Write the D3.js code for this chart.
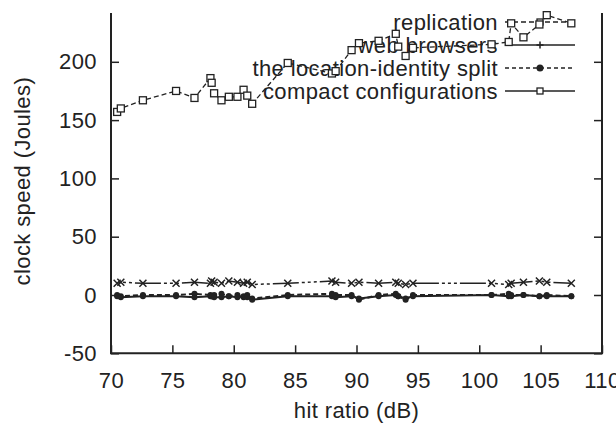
<!DOCTYPE html>
<html>
<head>
<meta charset="utf-8">
<script src="https://cdn.jsdelivr.net/npm/d3@7"></script>
<style>
  body { margin: 0; background: #fff; }
  svg { display: block; font-family: "Liberation Sans", Arial, sans-serif; }
</style>
</head>
<body>
<svg></svg>
<script>
// shared x values (hit ratio, dB)
const hitRatio = [70.5, 70.8, 72.6, 75.3, 76.8, 78.1, 78.2, 78.4, 79.0, 79.6, 80.3, 80.8, 81.1, 81.5, 84.4,
    88.0, 88.3, 89.6, 90.2, 91.8, 93.2, 93.4, 94.0, 94.6, 101.0, 102.4, 102.6, 103.6, 104.9, 105.5, 107.5];

const replication = [157, 160, 167, 175, 169, 186, 182, 173, 167, 170, 170, 176, 171, 164, 199,
    190, 192, 210, 216, 218, 224, 213, 205, 212, 215, 217, 233, 221, 232, 240, 233];
const webBrowsers = [10, 11, 10, 10, 11, 10, 12, 11, 10, 12, 11, 10, 11, 9, 10,
    12, 11, 10, 11, 10, 11, 10, 9, 10, 10, 9, 10, 11, 12, 11, 10];
const locationSplit = [0, -1, 0, 0, 1, 0, -1, 0, 1, -1, 0, -2, 0, -3, 0,
    1, 0, 0, -4, 0, 1, -1, -4, 0, 0, 1, 0, 0, -1, 0, -1];
const compactConf = [-1, -2, -1, -1, -2, -1, -1, -2, -2, -1, -2, -1, -2, -4, -1,
    -1, -2, -1, -3, -1, 0, -1, -3, -1, 0, -1, -1, 0, -1, -1, -1];

const xTicks = [70, 75, 80, 85, 90, 95, 100, 105, 110];
const yTicks = [-50, 0, 50, 100, 150, 200];
const seriesNames = ["replication", "web browsers", "the location-identity split", "compact configurations"];

const width = 616, height = 425;
const margin = ({ top: 13, right: 14, bottom: 72, left: 111 });

const svg = d3.select("svg")
    .attr("width", width)
    .attr("height", height);

const x = d3.scaleLinear()
    .domain([70, 110])
    .range([margin.left, width - margin.right]);

const y = d3.scaleLinear()
    .domain([-50, 250])
    .range([height - margin.bottom + 0.3, 3.5]);

const ink = "#222";
const fontSize = 22;
const spacing = "0.4px";

// axes
const xAxis = g => g
    .attr("transform", `translate(0,${y(-50)})`)
    .call(d3.axisBottom(x).tickValues(xTicks).tickSize(-8).tickPadding(19).tickFormat(d => String(d)))
    .call(g => g.select(".domain").remove());

const yAxis = g => g
    .attr("transform", `translate(${x(70)},0)`)
    .call(d3.axisLeft(y).tickValues(yTicks).tickSize(-8).tickPadding(14).tickFormat(d => String(d)))
    .call(g => g.select(".domain").remove());

const yAxisRight = g => g
    .attr("transform", `translate(${x(110)},0)`)
    .call(d3.axisRight(y).tickValues(yTicks).tickSize(-8).tickFormat(""))
    .call(g => g.select(".domain").remove());

svg.append("g").call(xAxis);
svg.append("g").call(yAxis);
svg.append("g").call(yAxisRight);

svg.selectAll(".tick line").attr("stroke", ink).attr("stroke-width", 1.5);
svg.selectAll(".tick text")
    .attr("font-size", fontSize)
    .attr("font-family", "Liberation Sans, Arial, sans-serif")
    .attr("letter-spacing", spacing)
    .attr("fill", ink);

// frame: left, bottom, right
svg.append("path")
    .attr("d", `M${x(70)},${margin.top}V${y(-50)}H${x(110)}V${margin.top}`)
    .attr("fill", "none")
    .attr("stroke", ink)
    .attr("stroke-width", 2);

// axis titles
svg.append("text")
    .attr("x", (x(70) + x(110)) / 2)
    .attr("y", 418)
    .attr("text-anchor", "middle")
    .attr("font-size", fontSize)
    .attr("letter-spacing", spacing)
    .attr("fill", ink)
    .text("hit ratio (dB)");

svg.append("text")
    .attr("transform", `translate(30,${(margin.top + y(-50)) / 2 - 2}) rotate(-90)`)
    .attr("text-anchor", "middle")
    .attr("font-size", fontSize)
    .attr("letter-spacing", spacing)
    .attr("fill", ink)
    .text("clock speed (Joules)");

// marker helpers
const marker = {
    square: (g, s) => g.append("rect").attr("x", -s).attr("y", -s).attr("width", 2 * s).attr("height", 2 * s)
        .attr("fill", "#fff").attr("stroke", ink).attr("stroke-width", 1.3),
    cross: (g, s) => g.append("path").attr("d", `M${-s},${-s}L${s},${s}M${-s},${s}L${s},${-s}`)
        .attr("stroke", ink).attr("stroke-width", 1.5),
    plus: (g, s) => g.append("path").attr("d", `M${-s},0H${s}M0,${-s}V${s}`)
        .attr("stroke", ink).attr("stroke-width", 1.5),
    dot: (g, s) => g.append("circle").attr("r", s).attr("fill", ink)
};

const series = [
    { name: seriesNames[0], values: replication, dash: "5,3", width: 1.3, mark: "square", size: 3.5, key: "square", keyDash: "5,3" },
    { name: seriesNames[1], values: webBrowsers, dash: "3,3,3,3,3,3,26,3", width: 1.5, mark: "cross", size: 3.5, key: "plus", keyDash: null },
    { name: seriesNames[2], values: locationSplit, dash: "5,3", width: 2, mark: "dot", size: 3, key: "dot", keyDash: "4,3" },
    { name: seriesNames[3], values: compactConf, dash: null, width: 2, mark: "dot", size: 3, key: "square", keyDash: null }
];

// legend
const legend = svg.append("g")
    .selectAll("g")
    .data(series)
    .enter().append("g")
    .attr("transform", (d, i) => `translate(0,${22 + i * 23})`);

legend.append("text")
    .attr("x", 498)
    .attr("dy", "0.35em")
    .attr("text-anchor", "end")
    .attr("font-size", fontSize)
    .attr("letter-spacing", spacing)
    .attr("fill", ink)
    .text(d => d.name);

legend.append("line")
    .attr("x1", 505)
    .attr("x2", 575)
    .attr("stroke", ink)
    .attr("stroke-width", 1.5)
    .attr("stroke-dasharray", d => d.keyDash);

legend.each(function (d) {
    const g = d3.select(this).append("g").attr("transform", "translate(540,0)");
    marker[d.key](g, d.key === "square" ? 3 : 3.5);
});

// data lines and points
const line = d3.line()
    .x((d, i) => x(hitRatio[i]))
    .y(d => y(d));

series.forEach(s => {
    svg.append("path")
        .datum(s.values)
        .attr("d", line)
        .attr("fill", "none")
        .attr("stroke", ink)
        .attr("stroke-width", s.width)
        .attr("stroke-dasharray", s.dash);

    svg.append("g")
        .selectAll("g")
        .data(s.values)
        .enter().append("g")
        .attr("transform", (d, i) => `translate(${x(hitRatio[i])},${y(d)})`)
        .each(function () { marker[s.mark](d3.select(this), s.size); });
});
</script>
</body>
</html>
